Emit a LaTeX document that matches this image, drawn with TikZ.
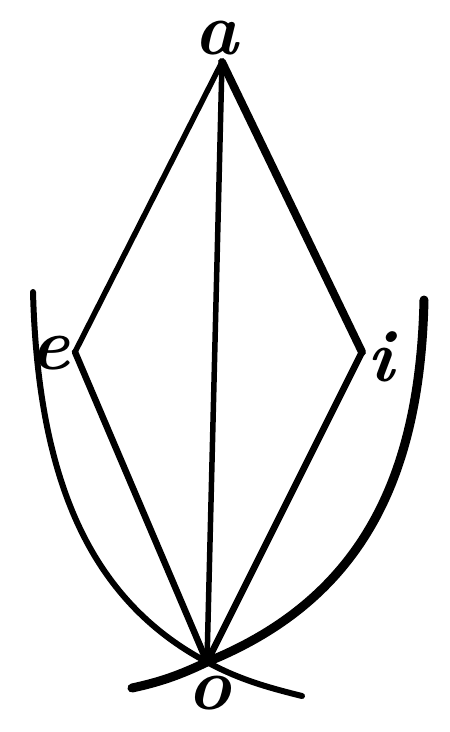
\documentclass[tikz,border=0pt]{standalone}
\begin{document}
\begin{tikzpicture}[x=1pt,y=-1pt,
  edge/.style={line width=#1, line cap=round, line join=round},
  lbl/.style={font=\fontsize{74}{74}\selectfont\bfseries\itshape, inner sep=0pt}]
\useasboundingbox (0,0) rectangle (450,732);
\coordinate (a) at (222,62);
\coordinate (e) at (75,352);
\coordinate (i) at (362,352);
\coordinate (o) at (207,662);
\coordinate (ls) at (33,292);
\coordinate (le) at (302,696);
\coordinate (rs) at (424,300);
\coordinate (re) at (132,688);
\node[lbl] (la) at (216,38) {a};
\node[lbl] (lae) at (50,353) {e};
\node[lbl] (li) at (381,357) {i};
\node[lbl] (lo) at (209,693) {o};
\draw[edge=5.5pt] (a) -- (e);
\draw[edge=8pt] (a) -- (i);
\draw[edge=5.5pt] (a) -- (o);
\draw[edge=6.5pt] (e) -- (o);
\draw[edge=6.5pt] (i) -- (o);
\draw[edge=6pt] (ls) .. controls (38,480) and (90,600) .. (o)
  .. controls (240,680) and (270,688) .. (le);
\draw[edge=9pt] (rs) .. controls (420,480) and (360,600) .. (o)
  .. controls (180,675) and (160,682) .. (re);
\end{tikzpicture}
\end{document}
